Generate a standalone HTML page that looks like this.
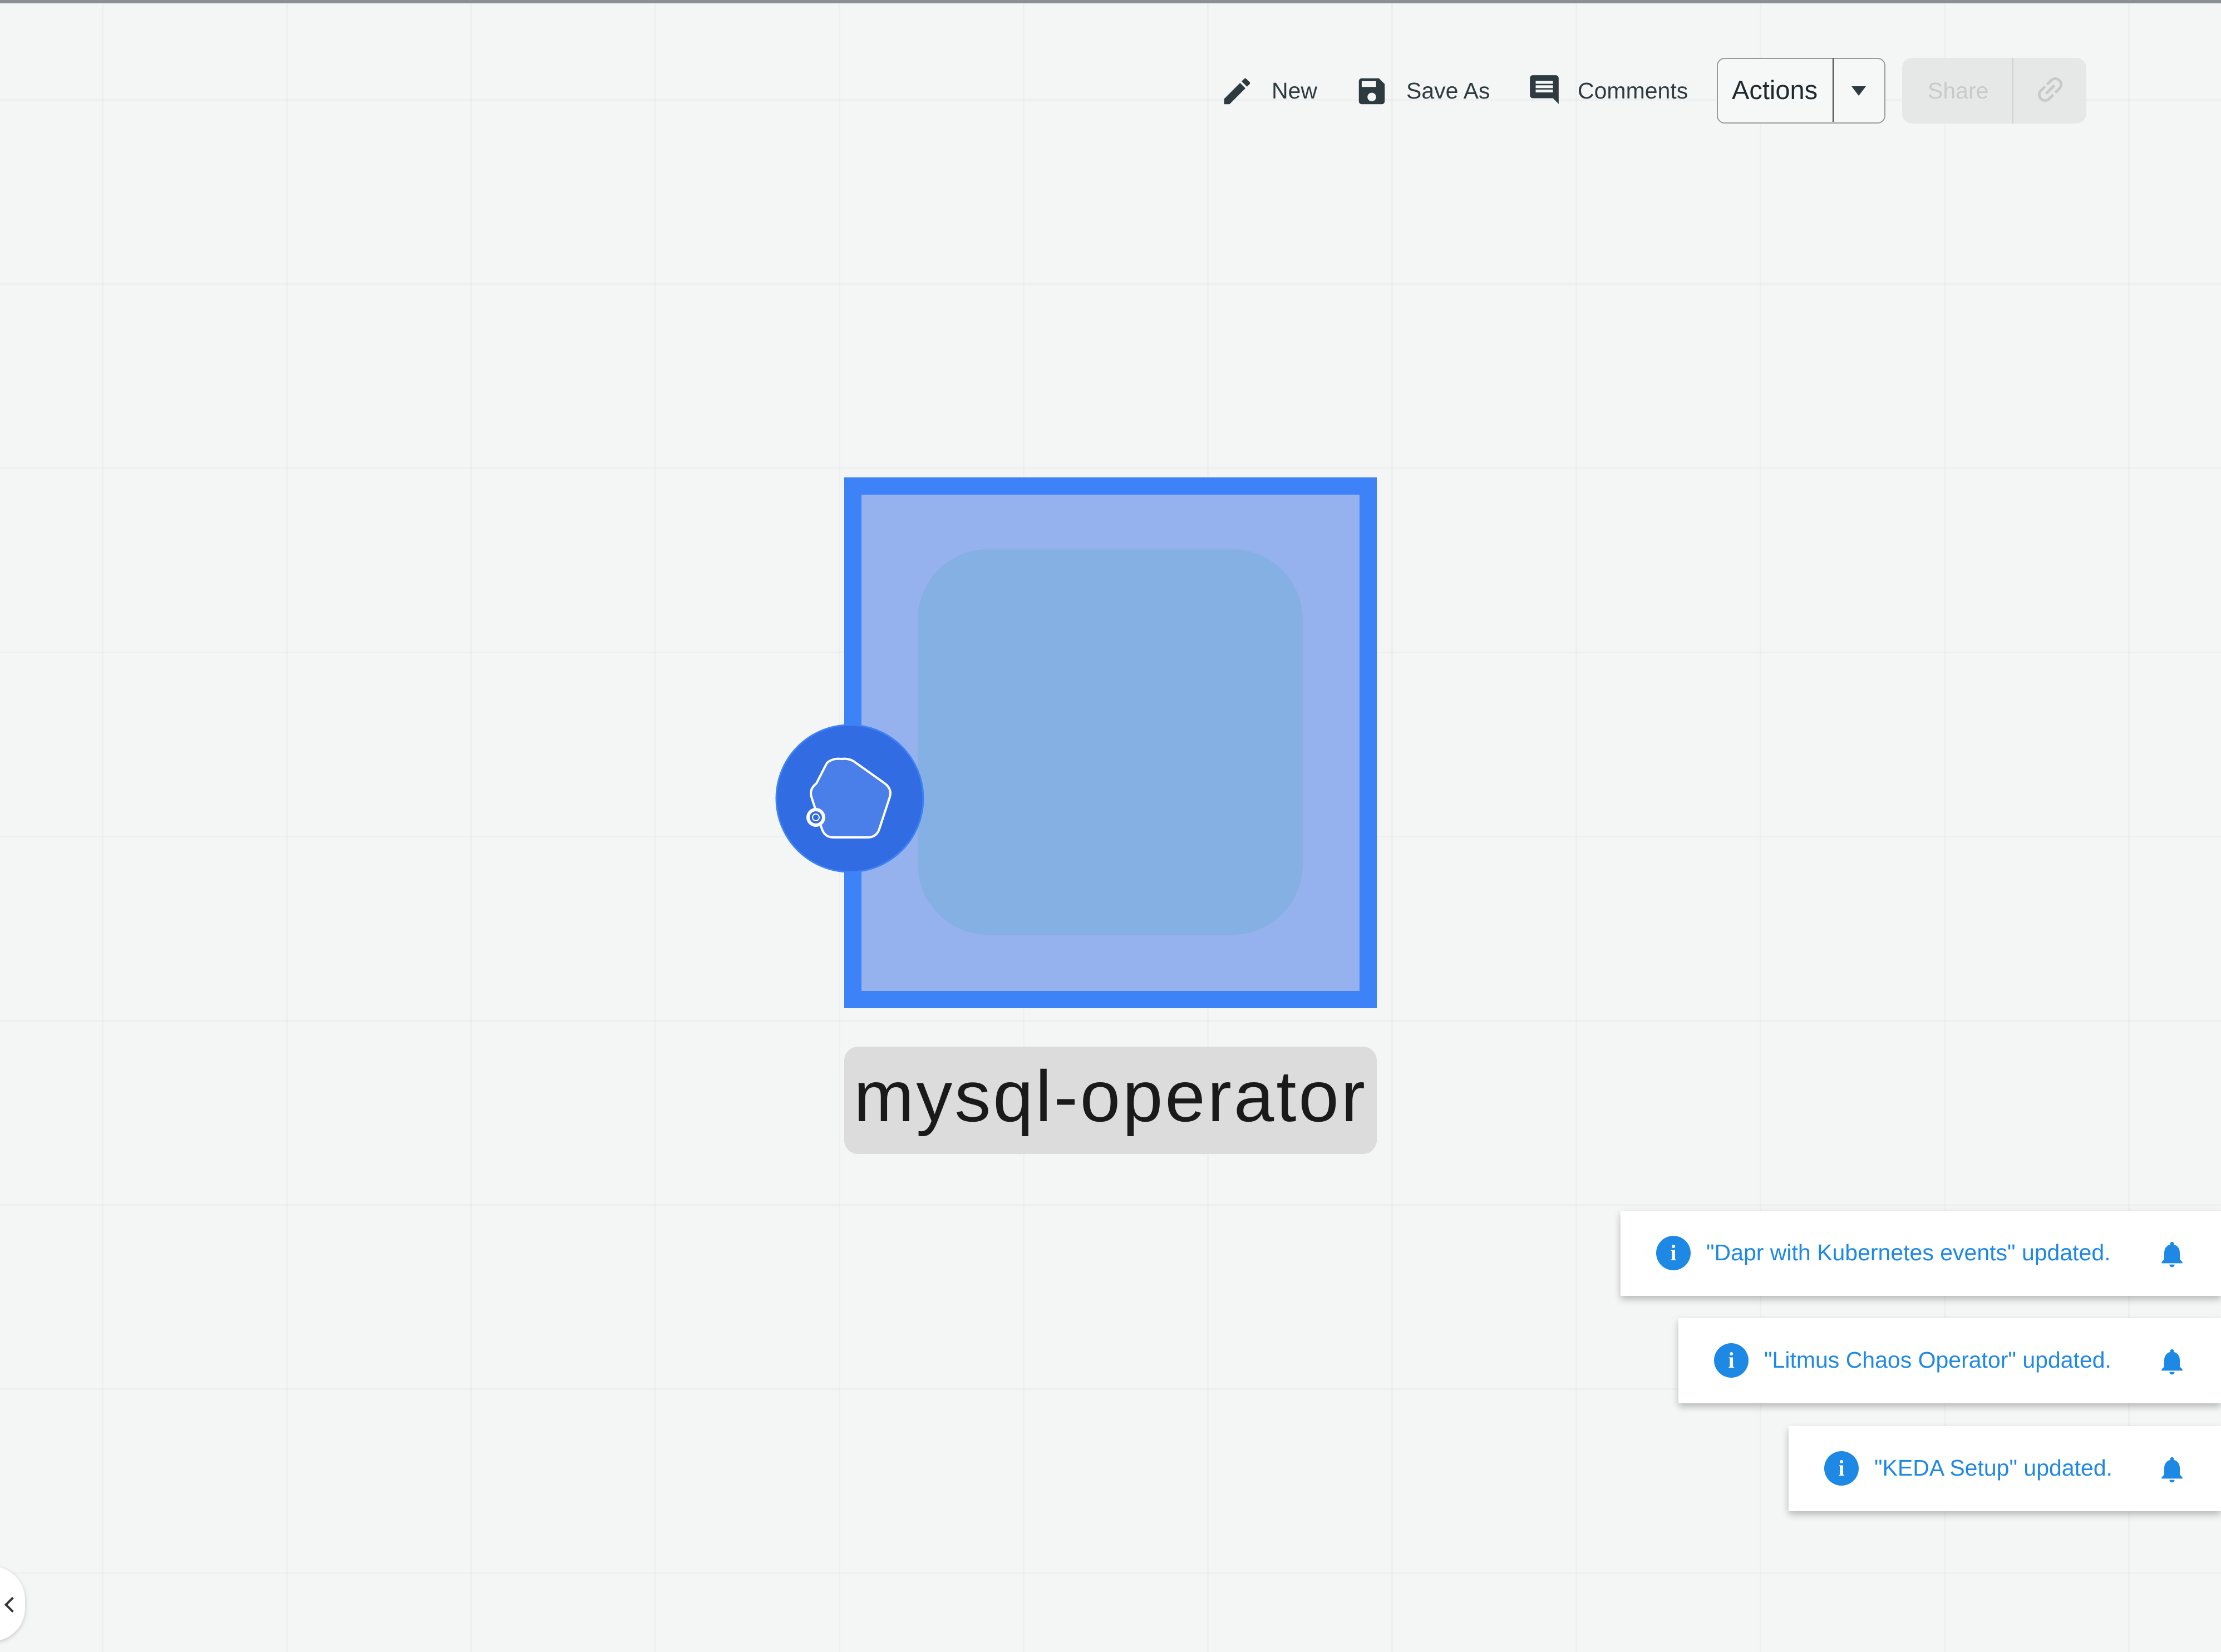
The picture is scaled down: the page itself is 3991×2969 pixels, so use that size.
<!DOCTYPE html>
<html><head><style>
html,body{margin:0;padding:0}
body{width:3991px;height:2969px;position:relative;overflow:hidden;background:#f4f6f5;font-family:"Liberation Sans",sans-serif;
background-image:linear-gradient(to right,rgba(0,0,0,0.022) 3px,transparent 3px),linear-gradient(to bottom,rgba(0,0,0,0.022) 3px,transparent 3px);
background-size:331px 331px;background-position:183px 178px}
.a{position:absolute}
.topline{left:0;top:0;width:3991px;height:6px;background:#8a9094}
.t{font-size:41px;color:#2d3b40;top:140px}
.note{background:#fff;height:153px;box-shadow:0 6px 12px rgba(0,0,0,0.25);right:0}
.note .i{position:absolute;left:64px;top:45px;width:62px;height:62px;border-radius:50%;background:#1e88e5;color:#fff;font-weight:bold;font-size:40px;text-align:center;line-height:62px;font-family:"Liberation Serif",serif}
.note .tx{position:absolute;top:52px;font-size:41px;color:#1e88e5}
.bell{position:absolute;right:60px;top:48px}
</style></head><body>
<div class="a topline"></div>

<svg class="a" style="left:2192px;top:133px" width="62" height="62" viewBox="0 0 24 24"><path fill="#2d3b40" d="M3 17.25V21h3.75L17.8 9.94l-3.75-3.75L3 17.25zM20.7 7.04a1 1 0 000-1.41l-2.34-2.34a1 1 0 00-1.41 0l-1.83 1.830 3.75 3.75 1.83-1.83z"/></svg>
<div class="a t" style="left:2285px">New</div>
<svg class="a" style="left:2434px;top:133px" width="62" height="62" viewBox="0 0 24 24"><path fill="#2d3b40" d="M17 3H5a2 2 0 00-2 2v14a2 2 0 002 2h14a2 2 0 002-2V7l-4-4zm-5 16a3 3 0 110-6 3 3 0 010 6zm3-10H5V5h10v4z"/></svg>
<div class="a t" style="left:2527px">Save As</div>
<svg class="a" style="left:2744px;top:130px" width="62" height="62" viewBox="0 0 24 24"><path fill="#2d3b40" d="M21.99 4A2 2 0 0020 2H4a2 2 0 00-2 2v12a2 2 0 002 2h14l4 4-.01-18zM18 14H6v-2h12v2zm0-3H6V9h12v2zm0-3H6V6h12v2z"/></svg>
<div class="a t" style="left:2835px">Comments</div>
<div class="a" style="left:3085px;top:104px;width:299px;height:114px;border:2px solid #9a9a9a;border-radius:14px;background:#f6f7f7"></div>
<div class="a" style="left:3293px;top:105px;width:2px;height:114px;background:#3a4347"></div>
<div class="a" style="left:3112px;top:134px;font-size:47px;color:#1e2a2e">Actions</div>
<div class="a" style="left:3327px;top:155px;width:0;height:0;border-left:13px solid transparent;border-right:13px solid transparent;border-top:17px solid #2d3b40"></div>
<div class="a" style="left:3418px;top:104px;width:331px;height:118px;border-radius:18px;background:#e6e8e8"></div>
<div class="a" style="left:3616px;top:104px;width:2px;height:118px;background:#d0d2d2"></div>
<div class="a" style="left:3464px;top:140px;font-size:41px;color:#c9cbcb">Share</div>
<svg class="a" style="left:3653px;top:130px" width="62" height="62" viewBox="0 0 24 24"><path fill="#c8caca" d="M3.9 12A3.1 3.1 0 017 8.9h4V7H7a5 5 0 000 10h4v-1.9H7A3.1 3.1 0 013.9 12zM8 13h8v-2H8v2zm9-6h-4v1.9h4a3.1 3.1 0 010 6.2h-4V17h4a5 5 0 000-10z" transform="rotate(-45 12 12)"/></svg>

<div class="a" style="left:1517px;top:858px;width:895px;height:892px;border:31px solid #3e82f7;background:#95b2ef"></div>
<div class="a" style="left:1649px;top:987px;width:692px;height:693px;border-radius:127px;background:#84b0e4"></div>
<svg class="a" style="left:1393px;top:1301px" width="268" height="268" viewBox="0 0 268 268">
<circle cx="134" cy="134" r="132" fill="#316ce2" stroke="#3d82f6" stroke-width="3"/>
<g transform="translate(-15,-10)">
<path d="M134 73 Q149 71 160 80 L212 117 Q225 127 221 141 L202 199 Q197 214 181 214 L120 214 Q104 214 99 199 L80 141 Q76 127 89 117 L108 80 Q119 71 134 73Z" fill="#4a7ee8" stroke="#fff" stroke-width="4" stroke-linejoin="round"/>
<circle cx="88" cy="178" r="17" fill="#fff"/>
<circle cx="88" cy="178" r="11" fill="#316ce2"/>
<circle cx="88" cy="178" r="6" fill="none" stroke="#fff" stroke-width="2"/>
</g>
</svg>
<div class="a" style="left:1517px;top:1881px;width:957px;height:193px;border-radius:25px;background:#dcdcdc"></div>
<div class="a" style="left:1517px;top:1895px;width:957px;text-align:center;font-size:130px;color:#1a1a1a;letter-spacing:4px">mysql-operator</div>

<div class="a note" style="left:2912px;top:2176px">
<div class="i">i</div><div class="tx" style="left:154px">"Dapr with Kubernetes events" updated.</div>
<svg class="bell" width="56" height="60" viewBox="0 0 24 24"><path fill="#1e88e5" d="M12 22a2 2 0 002-2h-4a2 2 0 002 2zm6-6v-5c0-3.070-1.64-5.64-4.5-6.32V4a1.5 1.5 0 00-3 0v.68C7.630 5.36 6 7.92 6 11v5l-2 2v1h16v-1l-2-2z"/></svg>
</div>
<div class="a note" style="left:3016px;top:2369px">
<div class="i">i</div><div class="tx" style="left:154px">"Litmus Chaos Operator" updated.</div>
<svg class="bell" width="56" height="60" viewBox="0 0 24 24"><path fill="#1e88e5" d="M12 22a2 2 0 002-2h-4a2 2 0 002 2zm6-6v-5c0-3.070-1.64-5.64-4.5-6.32V4a1.5 1.5 0 00-3 0v.68C7.630 5.36 6 7.92 6 11v5l-2 2v1h16v-1l-2-2z"/></svg>
</div>
<div class="a note" style="left:3214px;top:2563px">
<div class="i">i</div><div class="tx" style="left:154px">"KEDA Setup" updated.</div>
<svg class="bell" width="56" height="60" viewBox="0 0 24 24"><path fill="#1e88e5" d="M12 22a2 2 0 002-2h-4a2 2 0 002 2zm6-6v-5c0-3.070-1.64-5.64-4.5-6.32V4a1.5 1.5 0 00-3 0v.68C7.630 5.36 6 7.92 6 11v5l-2 2v1h16v-1l-2-2z"/></svg>
</div>

<div class="a" style="left:-60px;top:2815px;width:105px;height:135px;border-radius:0 60px 60px 0;background:#fff;box-shadow:0 2px 8px rgba(0,0,0,0.2)"></div>
<div class="a" style="left:12px;top:2874px;width:16px;height:16px;border-left:4px solid #333;border-bottom:4px solid #333;transform:rotate(45deg)"></div>
</body></html>
